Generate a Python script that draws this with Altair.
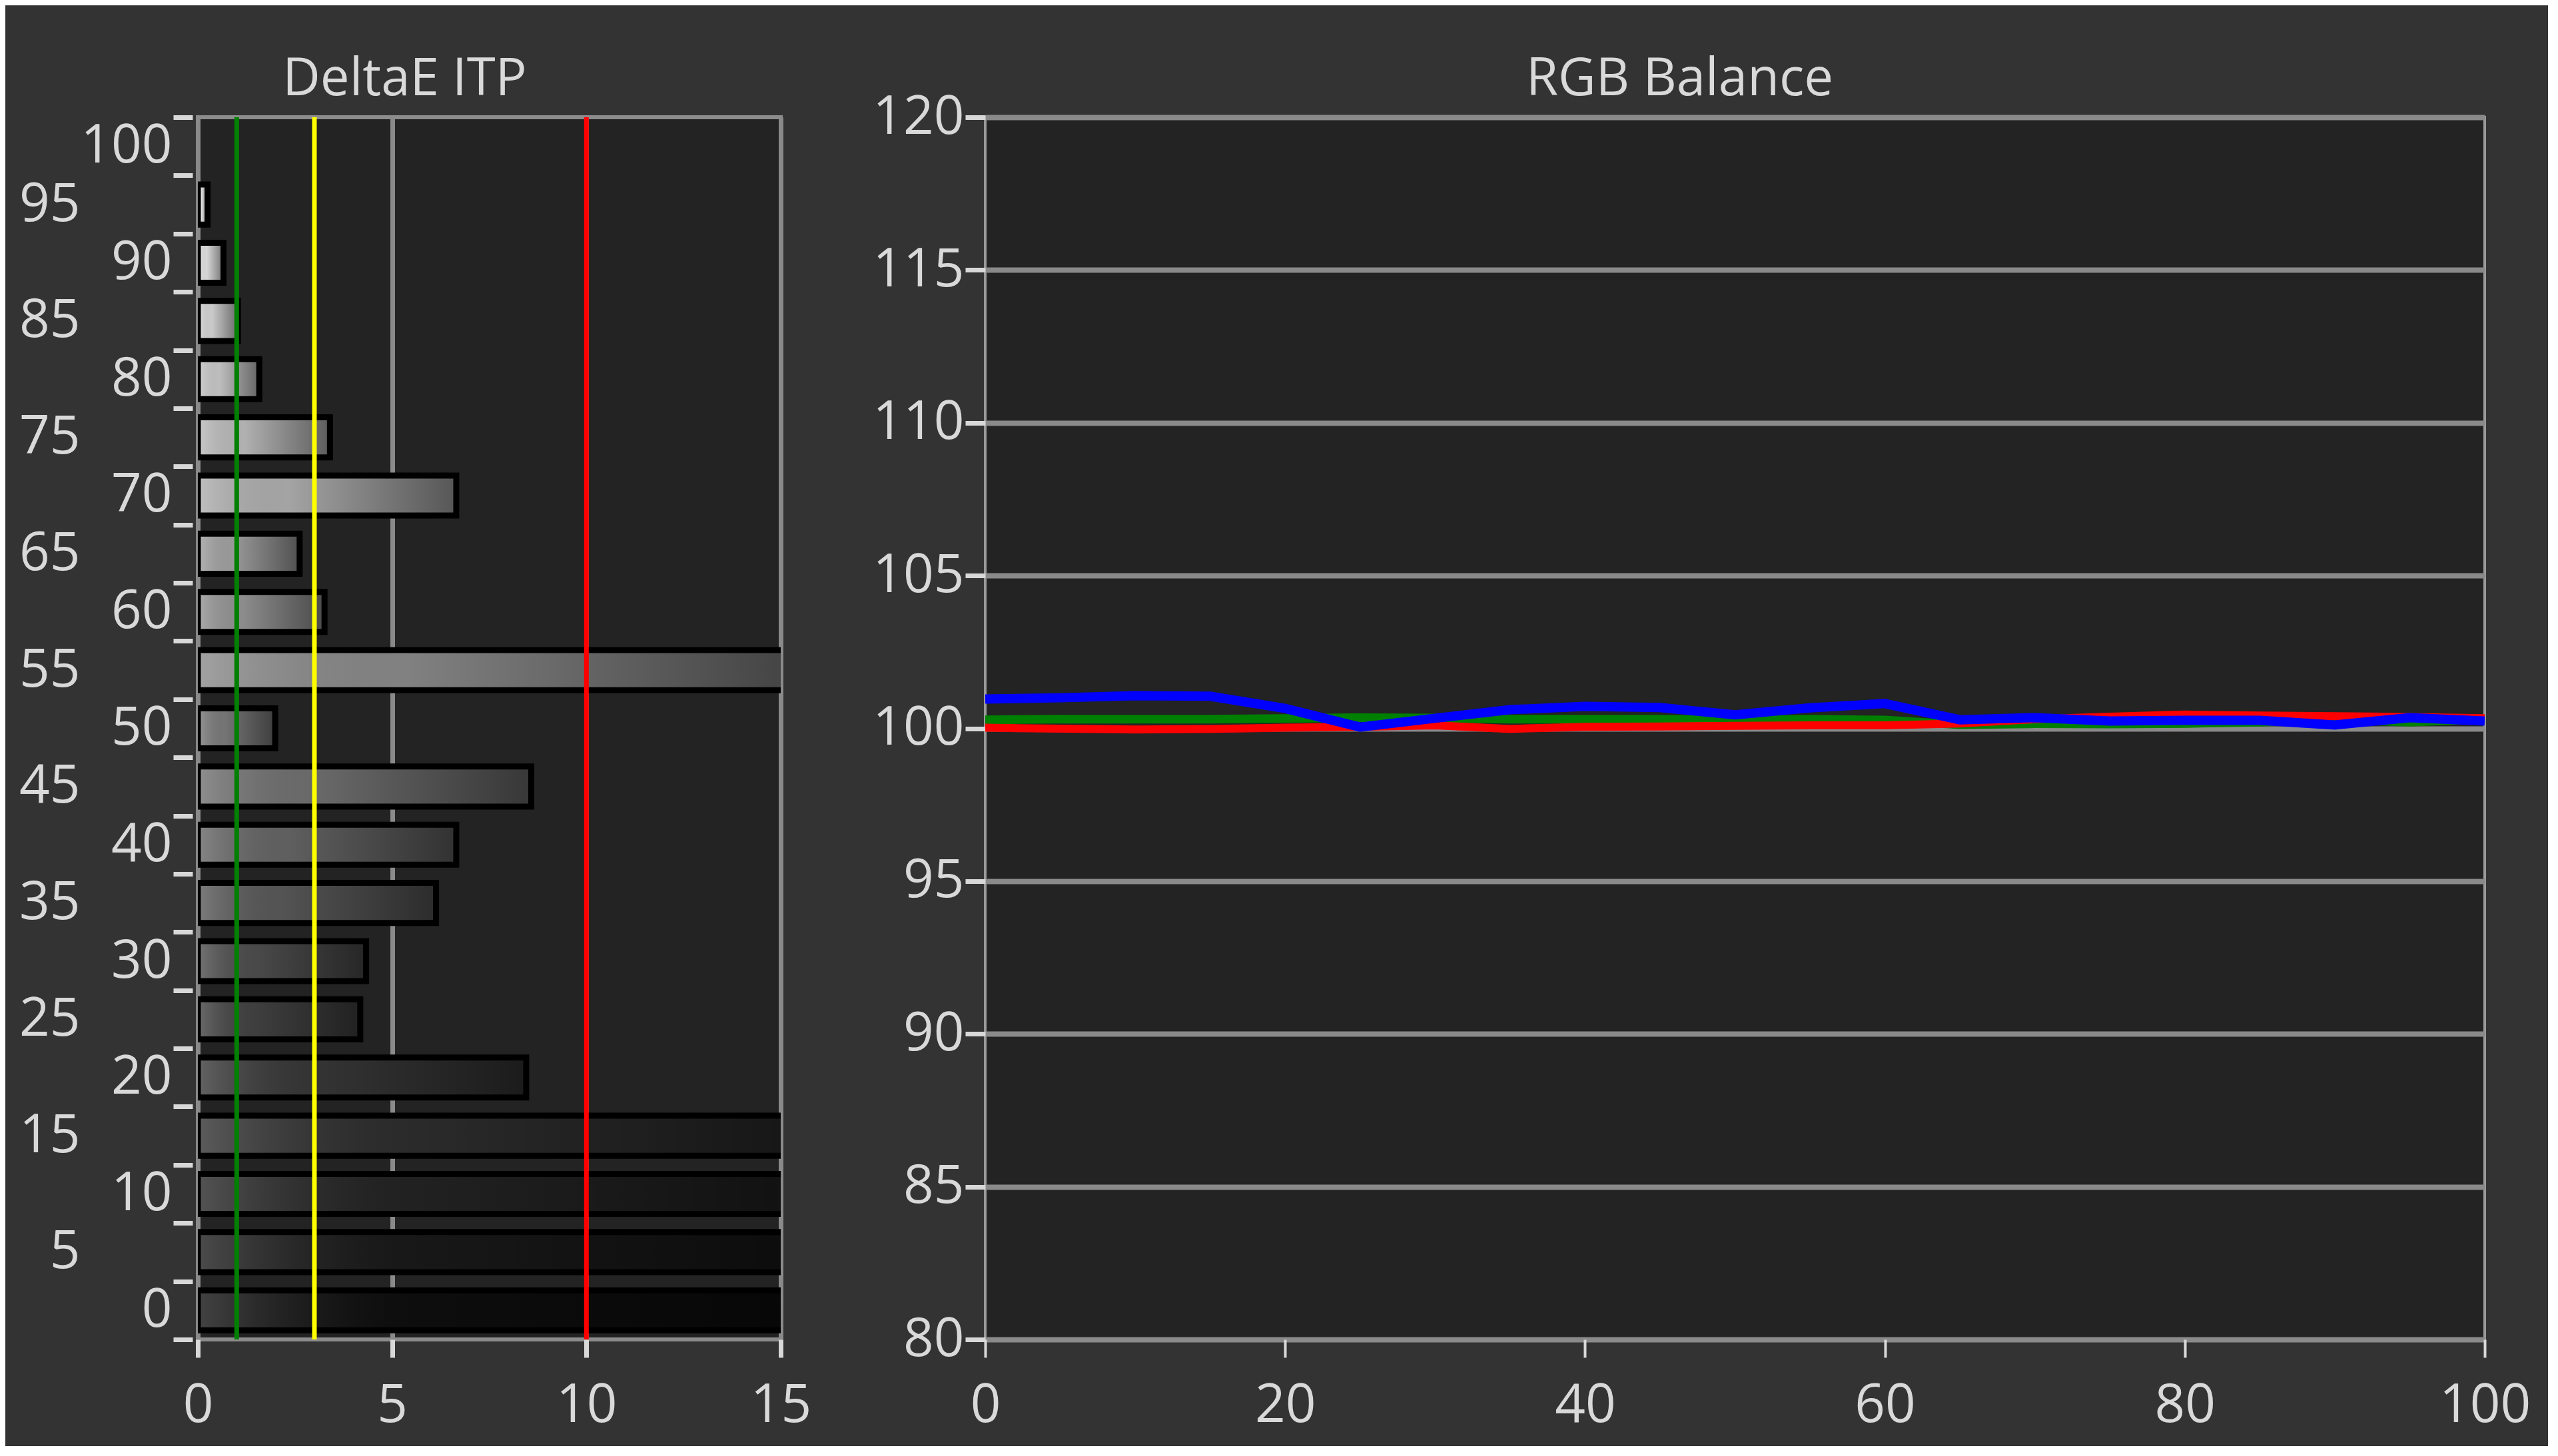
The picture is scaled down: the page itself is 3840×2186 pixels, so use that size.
import altair as alt
import pandas as pd

# ---------------- data ----------------
# DeltaE ITP per stimulus level (bars >15 run off the chart)
stimulus = [0, 5, 10, 15, 20, 25, 30, 35, 40, 45, 50, 55, 60, 65, 70, 75, 80, 85, 90, 95]
delta_e = [28.0, 24.0, 21.0, 19.0, 8.45, 4.18, 4.33, 6.13, 6.65, 8.58,
           1.99, 17.0, 3.26, 2.62, 6.65, 3.40, 1.58, 1.03, 0.66, 0.25]
y_tick_values = [-2.5 + 5 * k for k in range(22)]
de_x_ticks = [0, 5, 10, 15]
ref_levels = [1, 3, 10]
ref_colors = ["#008000", "#ffff00", "#ff0000"]

# RGB Balance
rgb_x = [0, 5, 10, 15, 20, 25, 30, 35, 40, 45, 50, 55, 60, 65, 70, 75, 80, 85, 90, 95, 100]
red = [100.02, 99.99, 99.96, 99.98, 100.02, 100.05, 100.10, 99.98, 100.05, 100.06, 100.08,
       100.10, 100.10, 100.16, 100.30, 100.38, 100.45, 100.42, 100.40, 100.37, 100.33]
green = [100.28, 100.30, 100.30, 100.30, 100.32, 100.35, 100.34, 100.30, 100.30, 100.30, 100.28,
         100.30, 100.27, 100.12, 100.15, 100.14, 100.16, 100.20, 100.28, 100.20, 100.30]
blue = [100.96, 101.0, 101.07, 101.05, 100.65, 100.04, 100.33, 100.61, 100.72, 100.68, 100.44,
        100.67, 100.81, 100.28, 100.35, 100.24, 100.26, 100.26, 100.11, 100.35, 100.24]
rgb_y_ticks = [80, 85, 90, 95, 100, 105, 110, 115, 120]
rgb_x_ticks = [0, 20, 40, 60, 80, 100]

FONT = "Open Sans"
TXT = "#d9d9d9"
BAR_HALF = 1.72

# ---------------- DeltaE ITP panel ----------------
de_df = pd.DataFrame({"stim": stimulus, "de": delta_e})
base = alt.Chart(de_df).transform_calculate(
    shown="min(datum.de, 15.25)",
    lo=f"datum.stim - {BAR_HALF}",
    hi=f"datum.stim + {BAR_HALF}",
)

y_axis = alt.Axis(
    values=y_tick_values,
    labelExpr="datum.value > 100 ? '' : format(datum.value + 2.5, 'd')",
    labelOffset=-43.7,
    labelPadding={"condition": {"test": "(datum.value + 2.5) % 10 == 0", "value": 2}, "value": 140},
    labelFontSize={"condition": {"test": "datum.value > 100", "value": 0}, "value": 80},
    tickSize=29, tickWidth=7, tickColor="#d8d8d8", offset=8,
    grid=False, domain=False, title=None,
)
x_axis_de = alt.Axis(
    values=de_x_ticks, format="d", tickSize=27, tickWidth=7, tickColor="#d8d8d8",
    grid=True, gridColor="#8a8a8a", gridWidth=7, domain=False, title=None,
    labelPadding=33,
)
xs = alt.Scale(domain=[0, 15], nice=False, zero=False)
ys = alt.Scale(domain=[-2.5, 102.5], nice=False, zero=False)

bars_fill = base.mark_bar(clip=True, strokeWidth=0).encode(
    x=alt.X("shown:Q", scale=xs, axis=x_axis_de),
    x2=alt.datum(0),
    y=alt.Y("lo:Q", scale=ys, axis=y_axis),
    y2="hi:Q",
    fill=alt.Fill("stim:Q", scale=alt.Scale(domain=[0, 95], range=["#0e0e0e", "#f0f0f0"]), legend=None),
)
overlay = base.mark_bar(
    clip=True, strokeWidth=0,
    color=alt.LinearGradient(
        gradient="linear", x1=0, x2=1, y1=0, y2=0,
        stops=[
            alt.GradientStop(color="rgba(255,255,255,0.22)", offset=0),
            alt.GradientStop(color="rgba(0,0,0,0.05)", offset=0.35),
            alt.GradientStop(color="rgba(0,0,0,0.5)", offset=1),
        ],
    ),
).encode(x="shown:Q", x2=alt.datum(0), y="lo:Q", y2="hi:Q")
outline = base.mark_bar(clip=True, fillOpacity=0, stroke="black", strokeWidth=9).encode(
    x="shown:Q", x2=alt.datum(0), y="lo:Q", y2="hi:Q"
)
refs = alt.Chart(pd.DataFrame({"level": ref_levels})).mark_rule(strokeWidth=7).encode(
    x="level:Q",
    stroke=alt.Stroke("level:O", scale=alt.Scale(domain=ref_levels, range=ref_colors), legend=None),
)

left = alt.layer(bars_fill, overlay, outline, refs).properties(
    width=875, height=1835,
    title=alt.TitleParams("DeltaE ITP", fontSize=78, font=FONT, color=TXT, fontWeight="normal", offset=-27, dx=-127),
    view=alt.ViewBackground(fill="#232323", stroke="#8c8c8c", strokeWidth=6),
)

# ---------------- RGB Balance panel ----------------
rgb_df = pd.DataFrame({
    "x": rgb_x * 3,
    "channel": ["Red"] * len(rgb_x) + ["Green"] * len(rgb_x) + ["Blue"] * len(rgb_x),
    "v": red + green + blue,
})
rx = alt.Scale(domain=[0, 100], nice=False)
ry = alt.Scale(domain=[80, 120], nice=False, zero=False)
stroke_scale = alt.Scale(domain=["Red", "Green", "Blue"], range=["#ff0000", "#008000", "#0000ff"])

def rgb_line(ch, w):
    return alt.Chart(rgb_df).transform_filter(f"datum.channel == '{ch}'").mark_line(strokeWidth=w, clip=True).encode(
        x=alt.X("x:Q", scale=rx, axis=alt.Axis(values=rgb_x_ticks, tickSize=27, tickWidth=4, tickColor="#d8d8d8",
                                                grid=False, domain=False, title=None, labelPadding=33)),
        y=alt.Y("v:Q", scale=ry, axis=alt.Axis(values=rgb_y_ticks, tickSize=30, tickWidth=7, tickColor="#d8d8d8",
                                                grid=True, gridColor="#8a8a8a", gridWidth=8, domain=False,
                                                title=None, labelPadding=2)),
        stroke=alt.Stroke("channel:N", scale=stroke_scale, legend=None),
    )

right = alt.layer(rgb_line("Green", 13), rgb_line("Red", 12), rgb_line("Blue", 14)).properties(
    width=2251, height=1835,
    title=alt.TitleParams("RGB Balance", fontSize=78, font=FONT, color=TXT, fontWeight="normal", offset=-23, dx=-83),
    view=alt.ViewBackground(fill="#232323", stroke="#9a9a9a", strokeWidth=4),
)

chart = alt.hconcat(left, right, spacing=86).resolve_scale(
    x="independent", y="independent", stroke="independent", fill="independent"
).properties(
    background="#333333",
    padding={"left": 17, "top": 70, "right": 24, "bottom": 18},
).configure_axis(
    labelFont=FONT, labelFontSize=80, labelColor=TXT, labelFlush=False, labelOverlap=False,
).configure_concat(spacing=86)

chart.save("out.html", embed_options={"renderer": "svg", "actions": False})
